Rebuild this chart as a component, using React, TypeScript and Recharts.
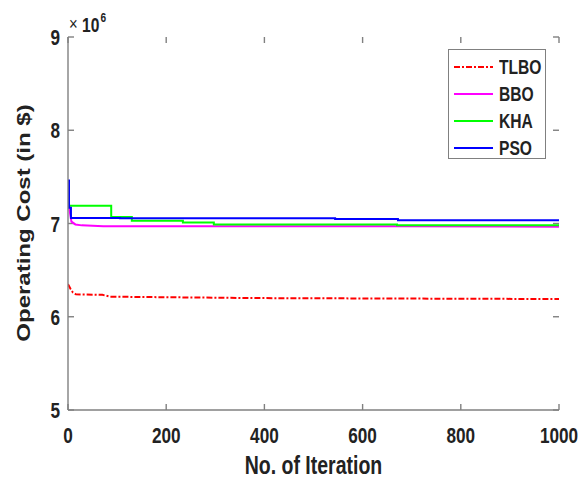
import React from 'react';
import { LineChart, Line, XAxis, YAxis, Legend, Label, ReferenceLine } from 'recharts';

// iteration / operating cost (x10^6 $)
const iterTLBO = [0, 5, 10, 16, 70, 86, 390, 1000];
const costTLBO = [6.35, 6.3, 6.26, 6.24, 6.235, 6.215, 6.2, 6.19];

const iterBBO = [0, 3, 7, 15, 28, 72, 666, 1000];
const costBBO = [7.34, 7.15, 7.02, 6.99, 6.98, 6.97, 6.97, 6.965];

const iterKHA = [0, 2, 88, 130, 234, 297, 670, 1000];
const costKHA = [7.4, 7.19, 7.07, 7.03, 7.01, 6.99, 6.98, 6.98];

const iterPSO = [0, 2, 6, 106, 544, 672, 1000];
const costPSO = [7.46, 7.17, 7.06, 7.055, 7.047, 7.036, 7.036];

const xTicks = [0, 200, 400, 600, 800, 1000];
const yTicks = [5, 6, 7, 8, 9];

const series = [
  { name: 'TLBO', iters: iterTLBO, costs: costTLBO, color: '#ff0000', dash: '6 2 2 2', step: false },
  { name: 'BBO', iters: iterBBO, costs: costBBO, color: '#ff00ff', dash: undefined, step: false },
  { name: 'KHA', iters: iterKHA, costs: costKHA, color: '#00ff00', dash: undefined, step: true },
  { name: 'PSO', iters: iterPSO, costs: costPSO, color: '#0000ff', dash: undefined, step: true },
];

const W = 587;
const H = 481;
const MARGIN = { top: 37, right: 28, left: 0, bottom: 0 };
const Y_AXIS_W = 68;
const X_AXIS_H = 71;
const PLOT_W = W - MARGIN.right - Y_AXIS_W;
const PLOT_H = H - MARGIN.top - X_AXIS_H;

const X_MIN = 0, X_MAX = 1000, Y_MIN = 5, Y_MAX = 9;
// inward tick length (6px) expressed in data units
const TICK_PX = 6;
const tickDx = (TICK_PX * (X_MAX - X_MIN)) / PLOT_W;
const tickDy = (TICK_PX * (Y_MAX - Y_MIN)) / PLOT_H;

const SQ = 0.78;
const FONT = '"Liberation Sans", Arial, sans-serif';
const INK = '#222';
const AXIS = '#808080';

const SqText = ({ x, y, size, anchor = 'middle', rotate = 0, weight = 'bold', children }: any) => (
  <text
    transform={`translate(${x},${y}) scale(${SQ},1)${rotate ? ` rotate(${rotate})` : ''}`}
    textAnchor={anchor}
    fontFamily={FONT}
    fontWeight={weight}
    fontSize={size}
    fill={INK}
  >
    {children}
  </text>
);

// axis passes label anchor 6px (tickSize) away from the axis line
const XTick = ({ x, y, payload }: any) => (
  <SqText x={x} y={y + 27} size={22}>{payload.value}</SqText>
);

const YTick = ({ x, y, payload }: any) => (
  <SqText x={x - 2} y={y + 8} size={22} anchor="end">{payload.value}</SqText>
);

const LegendBox = () => (
  <div
    style={{
      width: 98,
      height: 110,
      border: `1px solid ${AXIS}`,
      background: '#fff',
      boxSizing: 'border-box',
      paddingTop: 3,
    }}
  >
    {series.map((s) => (
      <div key={s.name} style={{ display: 'flex', alignItems: 'center', height: 27, whiteSpace: 'nowrap' }}>
        <svg width={39} height={6} style={{ marginLeft: 5, marginRight: 6, flexShrink: 0 }}>
          <line x1={0} y1={3} x2={39} y2={3} stroke={s.color} strokeWidth={2} strokeDasharray={s.dash} />
        </svg>
        <span
          style={{
            fontFamily: FONT,
            fontWeight: 'bold',
            fontSize: 20,
            color: INK,
            display: 'inline-block',
            flexShrink: 0,
            transform: `scaleX(${SQ})`,
            transformOrigin: 'left center',
            lineHeight: '20px',
          }}
        >
          {s.name}
        </span>
      </div>
    ))}
  </div>
);

export default function App() {
  return (
    <div style={{ position: 'absolute', left: 0, top: 0, background: '#fff' }}>
      <LineChart width={W} height={H} margin={MARGIN}>
        <XAxis
          type="number"
          dataKey="x"
          domain={[X_MIN, X_MAX]}
          ticks={xTicks}
          height={X_AXIS_H}
          stroke={AXIS}
          strokeWidth={1.4}
          tickLine={false}
          tickSize={6}
          tickMargin={0}
          tick={<XTick />}
          allowDataOverflow
        >
          <Label
            content={() => <SqText x={313.5} y={474} size={25}>No. of Iteration</SqText>}
          />
        </XAxis>
        <XAxis
          xAxisId="top"
          orientation="top"
          type="number"
          dataKey="x"
          domain={[X_MIN, X_MAX]}
          ticks={xTicks}
          height={0}
          stroke={AXIS}
          strokeWidth={1.4}
          tickLine={false}
          tick={false}
        />
        <YAxis
          type="number"
          domain={[Y_MIN, Y_MAX]}
          ticks={yTicks}
          width={Y_AXIS_W}
          stroke={AXIS}
          strokeWidth={1.4}
          tickLine={false}
          tickSize={6}
          tickMargin={0}
          tick={<YTick />}
          allowDataOverflow
        >
          <Label
            content={() => (
              <SqText x={30} y={223} size={24} rotate={-90}>Operating Cost (in $)</SqText>
            )}
          />
          <Label
            content={() => (
              <g>
                <SqText x={69} y={30} size={19} anchor="start" weight="normal">×</SqText>
                <SqText x={82} y={31.5} size={20} anchor="start">10</SqText>
                <SqText x={100.5} y={22} size={13} anchor="start">6</SqText>
              </g>
            )}
          />
        </YAxis>
        <YAxis
          yAxisId="right"
          orientation="right"
          type="number"
          domain={[Y_MIN, Y_MAX]}
          ticks={yTicks}
          width={0}
          stroke={AXIS}
          strokeWidth={1.4}
          tickLine={false}
          tick={false}
        />
        {/* matlab style inward ticks on all four sides */}
        {xTicks.map((t) => (
          <ReferenceLine
            key={`xb${t}`}
            segment={[{ x: t, y: Y_MIN }, { x: t, y: Y_MIN + tickDy }]}
            stroke={AXIS}
            strokeWidth={1.4}
          />
        ))}
        {xTicks.map((t) => (
          <ReferenceLine
            key={`xt${t}`}
            segment={[{ x: t, y: Y_MAX }, { x: t, y: Y_MAX - tickDy }]}
            stroke={AXIS}
            strokeWidth={1.4}
          />
        ))}
        {yTicks.map((t) => (
          <ReferenceLine
            key={`yl${t}`}
            segment={[{ x: X_MIN, y: t }, { x: X_MIN + tickDx, y: t }]}
            stroke={AXIS}
            strokeWidth={1.4}
          />
        ))}
        {yTicks.map((t) => (
          <ReferenceLine
            key={`yr${t}`}
            segment={[{ x: X_MAX, y: t }, { x: X_MAX - tickDx, y: t }]}
            stroke={AXIS}
            strokeWidth={1.4}
          />
        ))}
        {series.map((s) => (
          <Line
            key={s.name}
            name={s.name}
            data={s.iters.map((it, i) => ({ x: it, y: s.costs[i] }))}
            dataKey="y"
            type={s.step ? 'stepAfter' : 'linear'}
            stroke={s.color}
            strokeWidth={2}
            strokeDasharray={s.dash}
            dot={false}
            activeDot={false}
            isAnimationActive={false}
          />
        ))}
        <Legend
          layout="horizontal"
          verticalAlign="middle"
          align="center"
          content={<LegendBox />}
          wrapperStyle={{ left: 448, top: 49, width: 98, height: 110 }}
        />
      </LineChart>
    </div>
  );
}
